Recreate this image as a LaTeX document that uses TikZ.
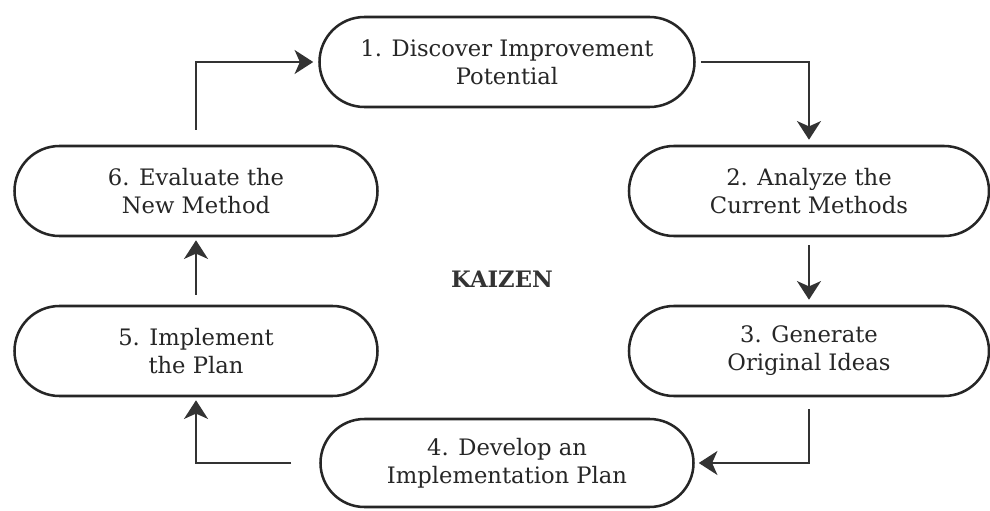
\documentclass[tikz,border=0pt]{standalone}
\usepackage{fontspec}
\setmainfont{DejaVu Serif}
\usetikzlibrary{shapes.misc,arrows.meta}
\begin{document}
\begin{tikzpicture}[x=0.75pt,y=-0.75pt,
  stepbox/.style={rounded rectangle, draw=black!85, line width=1.9pt,
    minimum width=#1*0.75pt, minimum height=90*0.75pt, align=center,
    font=\fontsize{17}{21}\selectfont, text=black!85, inner sep=0pt},
  stepbox/.default=365,
  conn/.style={draw=black!80, line width=1.3pt,
    -{Stealth[length=14pt,width=18pt,inset=4pt]}}]
\useasboundingbox[fill=white] (0,0) rectangle (990,511);
\node[stepbox=375] (n1) at (507,62) {1. Discover Improvement\\Potential};
\node[stepbox=360] (n2) at (809,191) {2. Analyze the\\Current Methods};
\node[stepbox=360] (n3) at (809,351) {3. Generate\\Original Ideas};
\node[stepbox=373,minimum height=88*0.75pt] (n4) at (507,463) {4. Develop an\\Implementation Plan};
\node[stepbox=363] (n5) at (196,351) {5. Implement\\the Plan};
\node[stepbox=363] (n6) at (196,191) {6. Evaluate the\\New Method};
\node[font=\bfseries\fontsize{17}{19}\selectfont, text=black!80] (k) at (502,279) {KAIZEN};
\draw[conn, shorten <=5*0.75pt, shorten >=5*0.75pt] (n1.east) -| (n2.north);
\draw[conn, shorten <=8*0.75pt, shorten >=5*0.75pt] (n2.south) -- (n3.north);
\draw[conn, shorten <=12*0.75pt, shorten >=4*0.75pt] (n3.south) |- (n4.east);
\draw[conn, shorten <=28*0.75pt, shorten >=3*0.75pt] (n4.west) -| (n5.south);
\draw[conn, shorten <=10*0.75pt, shorten >=3*0.75pt] (n5.north) -- (n6.south);
\draw[conn, shorten <=15*0.75pt, shorten >=5*0.75pt] (n6.north) |- (n1.west);
\end{tikzpicture}
\end{document}
